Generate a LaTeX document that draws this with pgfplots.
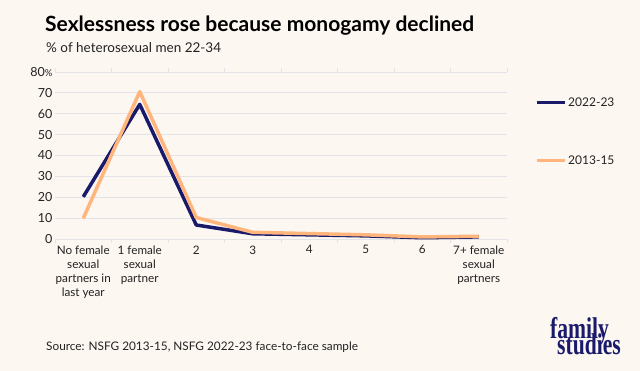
\documentclass[border=0pt]{standalone}
\usepackage{pgfplots}
\pgfplotsset{compat=1.18}
\usepackage{fontspec}
\setmainfont{Lato}
\newfontfamily\logofont{Liberation Serif}
\definecolor{bgc}{HTML}{FDF7F2}
\definecolor{navy}{HTML}{1A1A6B}
\definecolor{peach}{HTML}{FFB57C}
\definecolor{gridc}{HTML}{E4E4E8}
\definecolor{txt}{HTML}{222222}
\begin{document}
\begin{tikzpicture}[x=1pt,y=1pt]
\fill[bgc] (0,0) rectangle (640,371);
\begin{axis}[
  at={(55pt,132pt)}, anchor=south west,
  scale only axis, width=452pt, height=167pt,
  xmin=0, xmax=8, ymin=0, ymax=80,
  axis line style={draw=none},
  ytick={0,10,...,80},
  yticklabels={0,10,20,30,40,50,60,70,80{\fontsize{9.5}{9}\selectfont\%}},
  ymajorgrids, grid style={gridc, line width=0.8pt},
  major tick length=0pt,
  xtick={0.5,1.5,...,7.5},
  xticklabels={{No female\\sexual\\partners in\\last year},{1 female\\sexual\\partner},2,3,4,5,6,{7+ female\\sexual\\partners}},
  xticklabel style={align=center, font=\fontsize{11.7}{14}\selectfont, text=txt, anchor=north, yshift=-3pt},
  yticklabel style={font=\fontsize{12.5}{13}\selectfont, text=txt, xshift=1pt},
  extra x ticks={0,1,...,8}, extra x tick labels={},
  extra x tick style={major tick length=4pt, tick style={gridc, line width=0.8pt}, tick align=outside, grid=none},
  clip=false,
  legend style={at={(rel axis cs:1.062,0.86)}, anchor=north west, draw=none, fill=none,
    font=\fontsize{12}{13}\selectfont, text=txt, row sep=44pt, inner sep=0pt,
    /tikz/every even column/.append style={column sep=1pt}},
  legend cell align=left,
  legend image code/.code={\draw[#1, line width=3pt] (0pt,0pt) -- (28pt,0pt);},
]
\draw[gridc, line width=0.8pt] (rel axis cs:0,0) -- (rel axis cs:1,0);
\addplot[navy, line width=3.5pt, line join=round] coordinates {
 (0.5,20.2) (1.5,64.5) (2.5,6.7) (3.5,2.5) (4.5,2.0) (5.5,1.5) (6.5,0.6) (7.5,1.0)};
\addlegendentry{2022-23}
\addplot[peach, line width=3.5pt, line join=round] coordinates {
 (0.5,9.9) (1.5,70.6) (2.5,10.3) (3.5,3.2) (4.5,2.6) (5.5,2.0) (6.5,1.0) (7.5,1.3)};
\addlegendentry{2013-15}
\end{axis}
\node[anchor=base west, inner sep=0, font=\bfseries\fontsize{21}{24}\selectfont, text=black] at (45,371-32) {Sexlessness rose because monogamy declined};
\node[anchor=base west, inner sep=0, font=\fontsize{13.5}{15}\selectfont, text=txt] at (46,371-53) {\% of heterosexual men 22-34};
\node[anchor=base west, inner sep=0, font=\fontsize{11.8}{13}\selectfont, text=txt] at (46,371-351) {Source: NSFG 2013-15, NSFG 2022-23 face-to-face sample};
\node[anchor=base west, inner sep=0, text=navy, align=left] at (550,371-355) {\scalebox{0.72}[1]{\logofont\bfseries\fontsize{30}{30}\selectfont family}\\[-12pt]\hspace*{7pt}\scalebox{0.72}[1]{\logofont\bfseries\fontsize{30}{30}\selectfont studies}};
\end{tikzpicture}
\end{document}
